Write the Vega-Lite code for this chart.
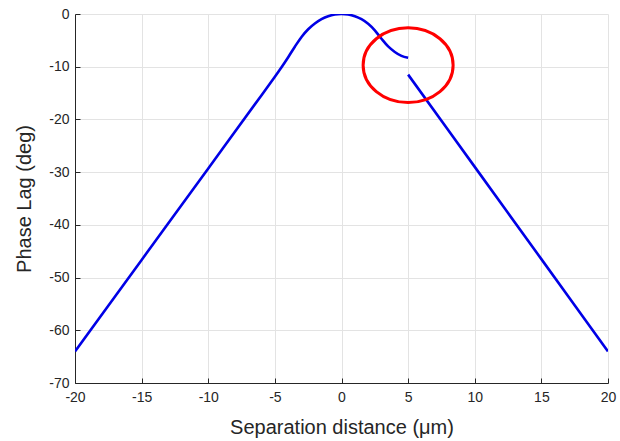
{
  "$schema": "https://vega.github.io/schema/vega-lite/v6.json",
  "width": 533,
  "height": 369,
  "autosize": {"type": "none"},
  "padding": {"left": 75, "top": 14, "right": 12, "bottom": 58},
  "background": "white",
  "config": {
    "view": {"stroke": null},
    "font": "Liberation Sans",
    "axis": {
      "labelFont": "Liberation Sans",
      "titleFont": "Liberation Sans",
      "labelFontSize": 14,
      "labelColor": "#262626",
      "titleFontSize": 20,
      "titleFontWeight": "normal",
      "titleColor": "#262626",
      "domainColor": "#262626",
      "tickColor": "#262626",
      "gridColor": "#e3e3e3",
      "gridWidth": 1,
      "tickSize": -5,
      "labelFlush": false,
      "labelExpr": "'' + datum.value"
    }
  },
  "datasets": {
    "curve": [
      {"x": -20, "y": -64, "seg": "a"},
      {"x": -15, "y": -46.65, "seg": "a"},
      {"x": -10, "y": -29.3, "seg": "a"},
      {"x": -6, "y": -15.4, "seg": "a"},
      {"x": -5, "y": -11.9, "seg": "a"},
      {"x": -4.5, "y": -10.1, "seg": "a"},
      {"x": -4, "y": -8.2, "seg": "a"},
      {"x": -3.5, "y": -6.2, "seg": "a"},
      {"x": -3, "y": -4.35, "seg": "a"},
      {"x": -2.5, "y": -2.9, "seg": "a"},
      {"x": -2, "y": -1.8, "seg": "a"},
      {"x": -1.5, "y": -0.98, "seg": "a"},
      {"x": -1, "y": -0.42, "seg": "a"},
      {"x": -0.5, "y": -0.1, "seg": "a"},
      {"x": 0, "y": 0, "seg": "a"},
      {"x": 0.5, "y": -0.1, "seg": "a"},
      {"x": 1, "y": -0.42, "seg": "a"},
      {"x": 1.5, "y": -0.98, "seg": "a"},
      {"x": 2, "y": -1.85, "seg": "a"},
      {"x": 2.5, "y": -3.1, "seg": "a"},
      {"x": 3, "y": -4.7, "seg": "a"},
      {"x": 3.5, "y": -6.15, "seg": "a"},
      {"x": 4, "y": -7.2, "seg": "a"},
      {"x": 4.5, "y": -7.95, "seg": "a"},
      {"x": 5, "y": -8.3, "seg": "a"},
      {"x": 5, "y": -11.5, "seg": "b"},
      {"x": 10, "y": -29, "seg": "b"},
      {"x": 15, "y": -46.5, "seg": "b"},
      {"x": 20, "y": -64, "seg": "b"}
    ],
    "mark": [
      {"x": 5, "y": -9.7}
    ]
  },
  "layer": [
    {
      "data": {"name": "curve"},
      "mark": {"type": "line", "color": "#0000e6", "strokeWidth": 2.6, "interpolate": "catmull-rom", "clip": true},
      "encoding": {
        "x": {
          "field": "x", "type": "quantitative",
          "scale": {"domain": [-20, 20], "nice": false},
          "axis": {"values": [-20, -15, -10, -5, 0, 5, 10, 15, 20], "title": "Separation distance (μm)", "titlePadding": 13, "labelPadding": 12}
        },
        "y": {
          "field": "y", "type": "quantitative",
          "scale": {"domain": [-70, 0], "nice": false},
          "axis": {"values": [-70, -60, -50, -40, -30, -20, -10, 0], "title": "Phase Lag (deg)", "titlePadding": 14, "labelPadding": 11}
        },
        "detail": {"field": "seg"}
      }
    },
    {
      "data": {"name": "mark"},
      "mark": {
        "type": "point",
        "shape": "M -1 0 A 1 0.83 0 1 1 1 0 A 1 0.83 0 1 1 -1 0 Z",
        "size": 8100,
        "filled": false,
        "stroke": "#ff0000",
        "strokeWidth": 3,
        "opacity": 1
      },
      "encoding": {
        "x": {"field": "x", "type": "quantitative"},
        "y": {"field": "y", "type": "quantitative"}
      }
    }
  ]
}
